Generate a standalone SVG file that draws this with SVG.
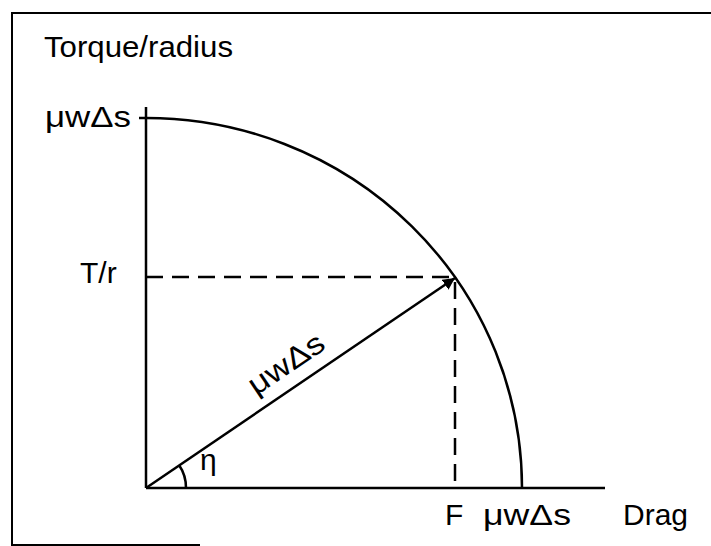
<svg xmlns="http://www.w3.org/2000/svg" width="711" height="546" viewBox="0 0 711 546">
<defs>
<style>
.t{font-family:"Liberation Sans",Arial,sans-serif;font-size:30px;fill:#000}
.l{stroke:#000;fill:none;stroke-width:2.5}
.d{stroke:#000;fill:none;stroke-width:2.5;stroke-dasharray:17,9}
</style>
<marker id="ah" markerWidth="12" markerHeight="12" refX="10" refY="5" orient="auto" markerUnits="userSpaceOnUse" viewBox="0 0 10 10">
<path d="M0,0 L10,5 L0,10 z" fill="#000"/>
</marker>
</defs>
<rect width="711" height="546" fill="#fff"/>
<path d="M711,13 L12,13 L12,545 L200,545" stroke="#000" stroke-width="2" fill="none"/>
<g id="axes">
<line class="l" x1="146" y1="107" x2="146" y2="488"/>
<line class="l" x1="146" y1="488" x2="605" y2="488"/>
<line class="l" x1="139" y1="118" x2="146" y2="118"/>
</g>
<g id="curve">
<path class="l" d="M146,118 A376,370 0 0 1 522,488"/>
</g>
<g id="connectors">
<line class="d" x1="146" y1="277" x2="455" y2="277"/>
<line class="d" x1="455" y1="282" x2="455" y2="488"/>
<line x1="146" y1="488" x2="455" y2="278" stroke="#000" stroke-width="2.5" marker-end="url(#ah)"/>
<path class="l" stroke-width="2" d="M186,488 A40,40 0 0 0 179,465"/>
</g>
<g id="labels">
<text class="t" x="44" y="57" textLength="189" lengthAdjust="spacingAndGlyphs">Torque/radius</text>
<text class="t" x="45" y="127" textLength="86" lengthAdjust="spacingAndGlyphs">μwΔs</text>
<text class="t" x="80" y="283">T/r</text>
<text class="t" x="256" y="396" transform="rotate(-34 256 396)" textLength="86" lengthAdjust="spacingAndGlyphs">μwΔs</text>
<text class="t" x="200" y="470">η</text>
<text class="t" x="445" y="525">F</text>
<text class="t" x="483" y="525" textLength="88" lengthAdjust="spacingAndGlyphs">μwΔs</text>
<text class="t" x="623" y="525">Drag</text>
</g>
</svg>
